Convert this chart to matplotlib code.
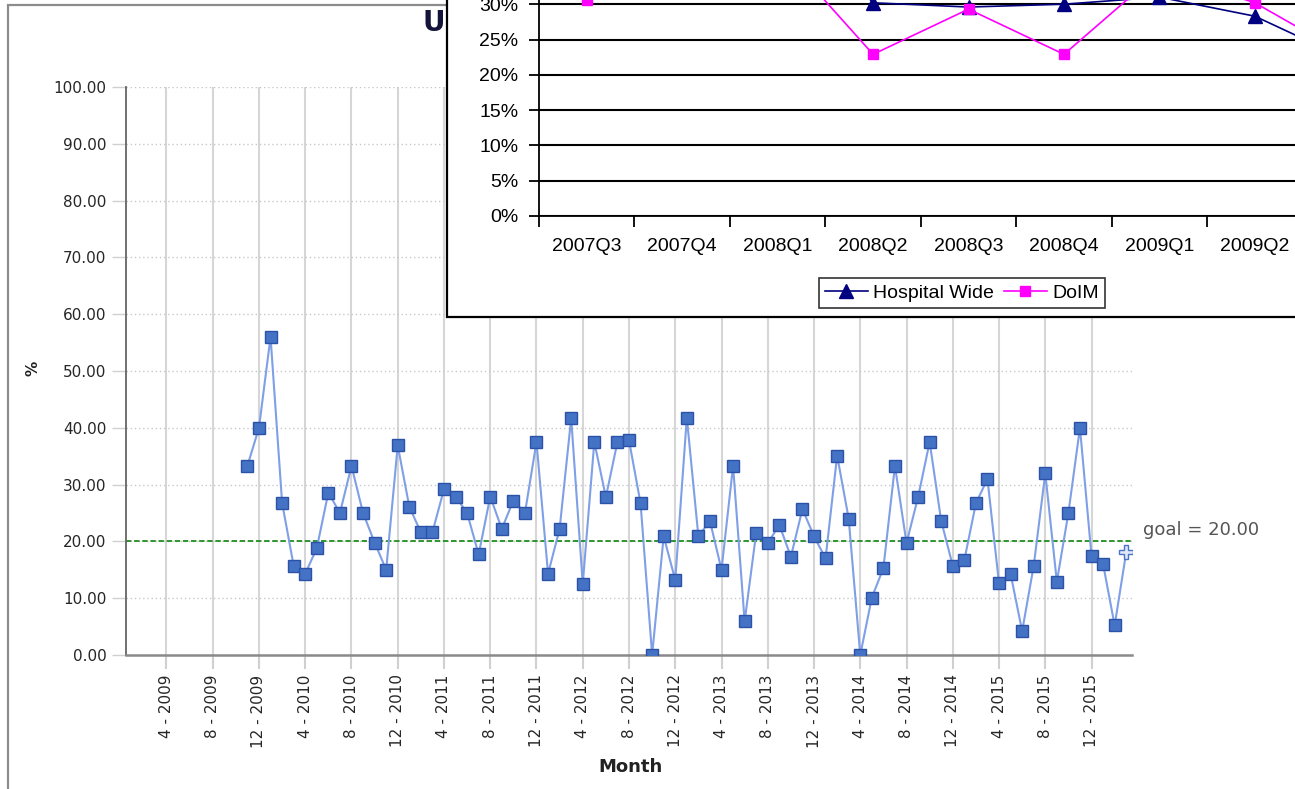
import matplotlib.pyplot as plt
import numpy as np
from matplotlib.patches import Rectangle

# main chart: monthly %, months counted from Jan 2009 (0 = Jan 2009)
first_month = 10  # Nov 2009
pct = [33.3, 40.0, 56.0, 26.8, 15.7, 14.3, 18.8, 28.6, 25.0, 33.3,
       25.0, 19.8, 15.0, 36.9, 26.1, 21.6, 21.6, 29.2, 27.9, 25.0,
       17.7, 27.9, 22.2, 27.2, 25.0, 37.5, 14.3, 22.2, 41.7, 12.5,
       37.5, 27.8, 37.5, 37.8, 26.7, 0.0, 20.9, 13.2, 41.8, 20.9,
       23.6, 15.0, 33.3, 5.9, 21.5, 19.7, 22.9, 17.3, 25.7, 20.9,
       17.0, 35.1, 24.0, 0.0, 10.1, 15.3, 33.3, 19.7, 27.8, 37.5,
       23.6, 15.7, 16.7, 26.7, 31.0, 12.6, 14.3, 4.2, 15.7, 32.0,
       12.9, 25.0, 40.0, 17.4, 16.0, 5.2, 18.1]
goal = 20.0
tick_labels = ["4 - 2009", "8 - 2009", "12 - 2009", "4 - 2010", "8 - 2010",
               "12 - 2010", "4 - 2011", "8 - 2011", "12 - 2011", "4 - 2012",
               "8 - 2012", "12 - 2012", "4 - 2013", "8 - 2013", "12 - 2013",
               "4 - 2014", "8 - 2014", "12 - 2014", "4 - 2015", "8 - 2015",
               "12 - 2015"]
first_tick = 3  # Apr 2009

# inset chart (quarterly), it runs past the top and right edge of the picture
quarters = ["2007Q3", "2007Q4", "2008Q1", "2008Q2", "2008Q3",
            "2008Q4", "2009Q1", "2009Q2", "2009Q3"]
hospital_wide = [36.0, 38.0, 45.0, 30.2, 29.6, 30.0, 31.0, 28.3, 22.0]
doim = [30.6, 40.0, 38.0, 22.9, 29.3, 22.9, 34.6, 30.2, 22.5]
shown_quarters = 8   # labels visible in the picture
shown_pct_max = 30   # highest y label visible

W, H = 1295, 789
fig = plt.figure(figsize=(W / 100, H / 100), dpi=100)
fig.patch.set_facecolor("white")

# outer grey frame of the original chart
fig.add_artist(Rectangle((8 / W, -0.1), 2, (H - 5) / H + 0.1, transform=fig.transFigure,
                         facecolor="none", edgecolor="#8c8c8c", lw=1.6, zorder=0.5))

ax = fig.add_axes([126 / W, (H - 655) / H, (1132 - 126) / W, (655 - 87) / H])
ax.set_zorder(1)

x = np.arange(first_month, first_month + len(pct))
ax.plot(x[:-1], pct[:-1], color="#7f9fe6", lw=1.5, marker="s", ms=8.3,
        mfc="#4472c4", mec="#2b52a8", mew=1.0, zorder=4)
ax.plot(x[-2:], pct[-2:], color="#7f9fe6", lw=1.5, zorder=3)
ax.plot(x[-1:], pct[-1:], ls="none", marker="P", ms=10, mfc="#dfe8f8",
        mec="#4a72c8", mew=1.0, zorder=4)

ax.axhline(goal, color="#1f8f1f", ls=(0, (3, 1.5)), lw=1.3, zorder=2)
fig.text(1143 / W, (H - 530) / H, "goal = %.2f" % goal, fontsize=13,
         color="#555555", ha="left", va="center")

ax.set_xlim(-0.5, 86.5)
ax.set_ylim(0, 100)
ticks = np.arange(first_tick, first_tick + 4 * len(tick_labels), 4)
ax.set_xticks(ticks)
ax.set_xticklabels(tick_labels, rotation=90, fontsize=11, color="#262626")
ax.set_yticks(np.arange(0, 101, 10))
ax.set_yticklabels(["%.2f" % v for v in np.arange(0, 101, 10)], fontsize=11, color="#262626")
ax.tick_params(axis="x", length=10, color="#d0d0d0", width=1.5, pad=4)
ax.tick_params(axis="y", length=10, color="#d0d0d0", width=1, pad=4)
ax.grid(axis="x", color="#d6d6d6", lw=1.5)
ax.grid(axis="y", color="#c8c8c8", lw=1, ls=(0, (1, 2)))
ax.set_axisbelow(True)
for s in ["top", "right"]:
    ax.spines[s].set_visible(False)
ax.spines["left"].set_color("#666666")
ax.spines["left"].set_linewidth(1.3)
ax.spines["bottom"].set_color("#8a8a8a")
ax.spines["bottom"].set_linewidth(1.8)

fig.text(630 / W, (H - 767) / H, "Month", fontsize=13, fontweight="bold",
         ha="center", va="center", color="#222222")
fig.text(33 / W, (H - 368) / H, "%", fontsize=11, fontweight="bold",
         rotation=90, ha="center", va="center", color="#222222")
fig.text(422 / W, (H - 23) / H, "U", fontsize=20, fontweight="bold",
         ha="left", va="center", color="#14143a")

# pasted inset chart on top
fig.add_artist(Rectangle((447 / W, (H - 317) / H), 2, 2, transform=fig.transFigure,
                         facecolor="white", edgecolor="black", lw=1.6, zorder=2))

ins = fig.add_axes([539 / W, (H - 216) / H, 95.45 * len(quarters) / W, 353 / H])
ins.set_zorder(3)
ins.patch.set_alpha(0)
qx = np.arange(len(quarters))
ins.plot(qx, hospital_wide, color="#000080", lw=1.2, marker="^", ms=10,
         mfc="#000080", mec="#000080", label="Hospital Wide")
ins.plot(qx, doim, color="#ff00ff", lw=1.2, marker="s", ms=7,
         mfc="#ff00ff", mec="#ff00ff", label="DoIM")
ins.set_xlim(-0.5, len(quarters) - 0.5)
ins.set_ylim(0, 50)
yt = np.arange(0, 51, 5)
ins.set_yticks(yt)
ins.set_yticklabels(["%d%%" % v if v <= shown_pct_max else "" for v in yt],
                    fontsize=14, family="Liberation Sans")
ins.set_xticks(qx)
ins.set_xticklabels([q if i < shown_quarters else "" for i, q in enumerate(quarters)],
                    fontsize=14, family="Liberation Sans")
ins.set_xticks(np.arange(len(quarters) + 1) - 0.5, minor=True)
ins.tick_params(axis="x", which="major", length=0, pad=16)
ins.tick_params(axis="x", which="minor", length=8, width=1.3, color="black")
ins.tick_params(axis="y", length=7, width=1.3, color="black", pad=8)
ins.grid(axis="y", color="black", lw=1.5)
ins.set_axisbelow(True)
for s in ["top", "right"]:
    ins.spines[s].set_visible(False)
ins.spines["left"].set_linewidth(1.3)
ins.spines["bottom"].set_linewidth(1.3)

leg = ins.legend(loc="center", bbox_to_anchor=(962 / W, (H - 293) / H),
                 bbox_transform=fig.transFigure, ncol=2, frameon=True,
                 fancybox=False, edgecolor="black", handlelength=2.2,
                 handletextpad=0.3, columnspacing=0.5, borderpad=0.3,
                 prop={"family": "Liberation Sans", "size": 14})
leg.get_frame().set_linewidth(1.2)

fig.savefig("out.png", dpi=100)
